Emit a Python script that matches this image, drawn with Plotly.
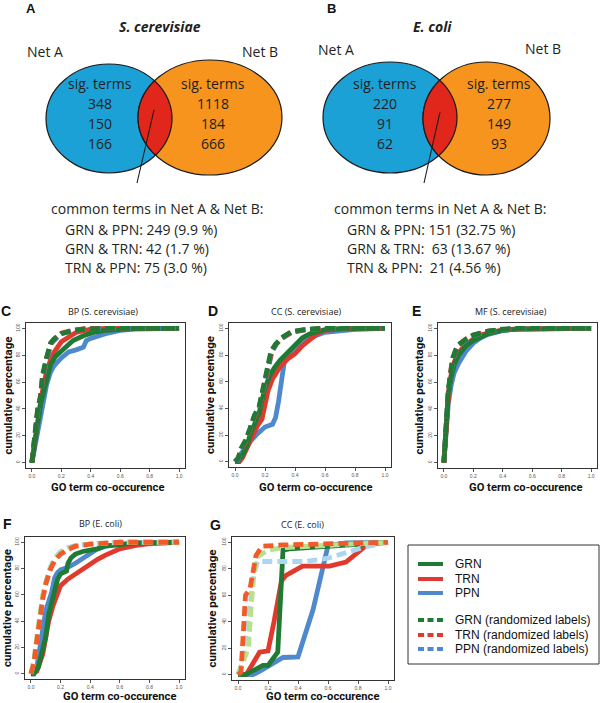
import numpy as np
import plotly.graph_objects as go

W, H = 600, 703

# ---------------- Venn data ----------------
venn_titles = ["S. cerevisiae", "E. coli"]
venn_letters = ["A", "B"]
sig_netA_sc = [348, 150, 166]
sig_netB_sc = [1118, 184, 666]
sig_netA_ec = [220, 91, 62]
sig_netB_ec = [277, 149, 93]
pair_names = ["GRN & PPN", "GRN & TRN", "TRN & PPN"]
common_sc_counts = [249, 42, 75]
common_sc_pct = ["9.9", "1.7", "3.0"]
common_ec_counts = [151, 63, 21]
common_ec_pct = ["32.75", "13.67", "4.56"]

# ---------------- CDF data: [co-occurrence, cumulative %] ----------------
bp_sc_grn = [[0,0],[0.016,12],[0.04,32],[0.06,44],[0.083,54],[0.105,65],[0.127,73],[0.16,79],[0.195,83],[0.24,87],[0.28,91],[0.35,94.5],[0.42,97],[0.5,98.5],[0.69,99.8],[1,100]]
bp_sc_trn = [[0,0],[0.016,13],[0.04,33],[0.06,46],[0.08,58],[0.1,68],[0.125,76],[0.15,82],[0.2,90],[0.25,94],[0.3,97],[0.4,99.5],[0.5,99.9],[1,100]]
bp_sc_ppn = [[0,0],[0.016,10],[0.04,24],[0.05,30],[0.075,45],[0.1,58],[0.125,67],[0.15,72],[0.2,78],[0.25,82.5],[0.3,84],[0.35,86],[0.37,91],[0.4,92.5],[0.5,96],[0.6,98.5],[0.7,99.5],[1,100]]
bp_sc_grn_r = [[0,0],[0.016,20],[0.038,39],[0.06,49],[0.07,64],[0.094,76],[0.127,89],[0.15,92],[0.2,96],[0.27,98],[0.35,99.5],[0.5,100],[1,100]]
bp_sc_trn_r = [[0,0],[0.016,19],[0.04,40],[0.06,51],[0.075,65],[0.1,78],[0.13,89.5],[0.16,93],[0.2,96.5],[0.27,98.5],[0.35,99.6],[0.5,100],[1,100]]
bp_sc_ppn_r = [[0,0],[0.016,18],[0.04,38],[0.06,50],[0.075,63],[0.1,76],[0.13,88.5],[0.16,92],[0.2,96],[0.27,98.2],[0.35,99.5],[0.5,100],[1,100]]

cc_sc_grn = [[0,0],[0.02,0],[0.05,5],[0.08,12],[0.1,20],[0.13,28],[0.16,36],[0.18,46],[0.2,55],[0.23,64],[0.26,70],[0.3,76],[0.35,82],[0.4,88],[0.45,93],[0.5,96],[0.6,99],[0.7,99.8],[1,100]]
cc_sc_trn = [[0,0],[0.03,0],[0.05,3],[0.1,15],[0.15,27],[0.18,32],[0.2,42],[0.22,53],[0.25,62],[0.3,71],[0.35,77],[0.4,81],[0.45,87],[0.5,92],[0.55,96],[0.6,98.5],[0.7,99.5],[1,100]]
cc_sc_ppn = [[0,0],[0.05,8],[0.1,15],[0.15,21],[0.2,26],[0.25,28],[0.27,33],[0.29,45],[0.31,62],[0.33,76],[0.36,81],[0.4,86],[0.45,90],[0.5,93],[0.6,97],[0.7,98.5],[0.8,99.3],[1,100]]
cc_sc_grn_r = [[0,0],[0.02,2],[0.04,10],[0.07,16],[0.1,25],[0.13,35],[0.16,41],[0.185,53],[0.21,66],[0.24,83],[0.27,88],[0.31,93],[0.375,97.5],[0.46,99],[0.58,100],[1,100]]
cc_sc_trn_r = [[0,0],[0.02,2],[0.04,9],[0.07,15],[0.1,24],[0.13,34],[0.16,40],[0.19,54],[0.215,67],[0.245,83],[0.275,88.5],[0.315,93],[0.38,97.5],[0.47,99],[0.6,100],[1,100]]
cc_sc_ppn_r = [[0,0],[0.02,1],[0.04,9],[0.07,15],[0.1,24],[0.13,34],[0.16,40],[0.19,53],[0.215,66],[0.245,82],[0.275,88],[0.315,92.5],[0.38,97],[0.47,98.8],[0.6,100],[1,100]]

mf_sc_grn = [[0,0],[0.01,18],[0.02,36],[0.03,50],[0.05,64],[0.07,73],[0.1,80],[0.15,87],[0.2,91],[0.25,94],[0.3,96],[0.4,98.5],[0.5,99.5],[1,100]]
mf_sc_trn = [[0,0],[0.01,19],[0.02,38],[0.03,52],[0.05,66],[0.07,75],[0.1,82],[0.15,88],[0.2,92],[0.25,95],[0.3,96.5],[0.4,98.8],[0.5,99.6],[1,100]]
mf_sc_ppn = [[0,0],[0.01,15],[0.02,30],[0.03,44],[0.05,58],[0.07,67],[0.1,74],[0.15,83],[0.2,89],[0.25,93],[0.3,95.5],[0.4,98.5],[0.5,99.5],[1,100]]
mf_sc_grn_r = [[0,0],[0.01,20],[0.02,40],[0.03,55],[0.04,62],[0.05,72],[0.06,78],[0.08,84],[0.1,88],[0.15,92],[0.2,95],[0.3,98],[0.4,99.5],[0.5,100],[1,100]]
mf_sc_trn_r = [[0,0],[0.01,19],[0.02,39],[0.03,54],[0.04,62],[0.05,71],[0.06,77],[0.08,83],[0.1,87.5],[0.15,92],[0.2,95],[0.3,98],[0.4,99.4],[0.5,100],[1,100]]
mf_sc_ppn_r = [[0,0],[0.01,19],[0.02,39],[0.03,53],[0.04,61],[0.05,70],[0.06,76],[0.08,83],[0.1,87],[0.15,91.5],[0.2,94.5],[0.3,97.8],[0.4,99.3],[0.5,100],[1,100]]

bp_ec_grn = [[0,0],[0.02,0],[0.05,5],[0.08,20],[0.1,28],[0.12,45],[0.14,55],[0.16,65],[0.18,72],[0.2,76],[0.24,78],[0.25,84],[0.27,88],[0.3,91],[0.35,93],[0.4,94],[0.45,95],[0.5,97],[0.6,98.5],[0.7,99.3],[1,100]]
bp_ec_trn = [[0,0],[0.04,2],[0.08,15],[0.1,28],[0.12,40],[0.15,52],[0.18,62],[0.2,67],[0.25,72],[0.3,76],[0.35,80],[0.4,84],[0.45,87],[0.5,90],[0.55,93],[0.6,95],[0.7,97.5],[0.8,99],[1,100]]
bp_ec_ppn = [[0,0],[0.02,0],[0.04,5],[0.06,20],[0.08,35],[0.1,48],[0.12,55],[0.14,62],[0.16,73],[0.18,77],[0.2,79],[0.25,81],[0.3,84],[0.35,88],[0.4,92],[0.45,95],[0.5,97],[0.6,98.5],[0.7,99.5],[1,100]]
bp_ec_grn_r = [[0,0],[0.02,10],[0.04,28],[0.06,45],[0.08,60],[0.1,70],[0.13,80],[0.16,87],[0.2,92],[0.25,95],[0.3,97],[0.4,98.5],[0.5,99.5],[0.6,100],[1,100]]
bp_ec_trn_r = [[0,0],[0.02,8],[0.04,25],[0.06,42],[0.08,57],[0.1,68],[0.13,79],[0.16,86],[0.2,91],[0.25,94.5],[0.3,97],[0.4,98.5],[0.5,99.3],[0.6,100],[1,100]]
bp_ec_ppn_r = [[0,0],[0.02,9],[0.04,27],[0.06,44],[0.08,59],[0.1,69],[0.13,81],[0.16,88],[0.2,93],[0.25,96],[0.3,97.5],[0.4,98.8],[0.5,99.5],[0.6,100],[1,100]]

cc_ec_grn = [[0,0],[0.05,0],[0.166,7],[0.2,7],[0.265,17],[0.3,94],[0.34,95],[0.61,96.8],[1,100]]
cc_ec_trn = [[0,0],[0.055,0],[0.144,17],[0.2,18],[0.24,40],[0.29,71],[0.32,75],[0.43,82],[0.61,82],[0.72,85],[0.87,99],[1,100]]
cc_ec_ppn = [[0,0],[0.1,0],[0.166,4],[0.3,13],[0.4,13.5],[0.5,49],[0.6,97.5],[0.72,99.5],[1,100]]
cc_ec_grn_r = [[0,0],[0.04,12],[0.07,20],[0.09,55],[0.11,80],[0.13,89],[0.2,94],[0.3,96],[0.6,98],[1,100]]
cc_ec_trn_r = [[0,0],[0.02,2],[0.05,60],[0.08,65],[0.12,90],[0.16,97],[0.3,98],[0.6,99],[1,100]]
cc_ec_ppn_r = [[0,0],[0.03,10],[0.06,33],[0.1,72],[0.13,85.5],[0.45,85.5],[0.6,88],[0.83,96],[1,100]]

x_ticks = [0, 0.2, 0.4, 0.6, 0.8, 1.0]
x_tick_labels = ["0.0", "0.2", "0.4", "0.6", "0.8", "1.0"]
y_ticks = [0, 20, 40, 60, 80, 100]
y_tick_labels = ["0", "20", "40", "60", "80", "100"]

legend_labels = ["GRN", "TRN", "PPN", "GRN (randomized labels)", "TRN (randomized labels)", "PPN (randomized labels)"]

# ---------------- styles ----------------
C_GRN, C_TRN, C_PPN = "#1f7a34", "#e03a2f", "#4d89cc"
C_GRN_L, C_TRN_L, C_PPN_L = "#b8e08e", "#f25a2a", "#acd6f0"
V_BLUE, V_ORANGE, V_RED = "#1ba1d6", "#f7941d", "#e1261c"
TXT = "#231f20"
VFONT = "Open Sans"


def PX(x):
    return x / W


def PY(y):
    return 1 - y / H


fig = go.Figure()
shapes = []
ann = []


def text(x, y, s, size, family=VFONT, color=TXT, xanchor="center", angle=0):
    ann.append(dict(x=PX(x), y=PY(y), xref="paper", yref="paper", text=s, showarrow=False,
                    xanchor=xanchor, yanchor="middle", textangle=angle,
                    font=dict(size=size, family=family, color=color)))


# ---------------- Venn diagrams ----------------
def lens_path(c1, r1, c2, r2, n=720):
    t = np.linspace(-np.pi, np.pi, n)
    x1 = c1[0] + r1[0] * np.cos(t)
    y1 = c1[1] + r1[1] * np.sin(t)
    in2 = ((x1 - c2[0]) / r2[0]) ** 2 + ((y1 - c2[1]) / r2[1]) ** 2 <= 1
    t2 = np.linspace(0, 2 * np.pi, n)
    x2 = c2[0] + r2[0] * np.cos(t2)
    y2 = c2[1] + r2[1] * np.sin(t2)
    in1 = ((x2 - c1[0]) / r1[0]) ** 2 + ((y2 - c1[1]) / r1[1]) ** 2 <= 1
    pts = list(zip(x1[in2], y1[in2])) + list(zip(x2[in1], y2[in1]))
    return "M " + " L ".join(f"{PX(a):.5f},{PY(b):.5f}" for a, b in pts) + " Z"


def venn(off, blue_box, orange_box, title, letter, sigA, sigB, counts, pcts,
         blue_cx, orange_cx, pointer, netA_x, netB_x, netA_y, netB_y, common_x, list_x, extra_space):
    bx0, by0, bx1, by1 = blue_box
    ox0, oy0, ox1, oy1 = orange_box
    for (x0, y0, x1, y1), col in [(blue_box, V_BLUE), (orange_box, V_ORANGE)]:
        shapes.append(dict(type="circle", xref="paper", yref="paper",
                           x0=PX(x0), x1=PX(x1), y0=PY(y1), y1=PY(y0),
                           fillcolor=col, line=dict(color="#1a1a1a", width=1.2)))
    c1 = ((bx0 + bx1) / 2, (by0 + by1) / 2); r1 = ((bx1 - bx0) / 2, (by1 - by0) / 2)
    c2 = ((ox0 + ox1) / 2, (oy0 + oy1) / 2); r2 = ((ox1 - ox0) / 2, (oy1 - oy0) / 2)
    shapes.append(dict(type="path", xref="paper", yref="paper", path=lens_path(c1, r1, c2, r2),
                       fillcolor=V_RED, line=dict(color="#1a1a1a", width=1.2)))
    (px0, py0), (px1, py1) = pointer
    shapes.append(dict(type="line", xref="paper", yref="paper", x0=PX(px0), y0=PY(py0),
                       x1=PX(px1), y1=PY(py1), line=dict(color="#1a1a1a", width=1.1)))
    text(off + 31, 9, f"<b>{letter}</b>", 13, family="Liberation Sans", color="#111")
    text((bx0 + ox1) / 2 - 4, 27, f"<b><i>{title}</i></b>", 14)
    text(netA_x, netA_y, "Net A", 14)
    text(netB_x, netB_y, "Net B", 14)
    rows_y = [83, 103, 123, 143]
    text(blue_cx, rows_y[0], "sig. terms", 14)
    text(orange_cx, rows_y[0], "sig. terms", 14)
    for i in range(3):
        text(blue_cx, rows_y[i + 1], str(sigA[i]), 14)
        text(orange_cx, rows_y[i + 1], str(sigB[i]), 14)
    text(common_x, 208, "common terms in Net A &amp; Net B:", 14, xanchor="left")
    list_y = [230, 248.5, 267]
    for i in range(3):
        sp = "\u00a0" if (extra_space and i > 0) else ""
        text(list_x, list_y[i], f"{pair_names[i].replace('&', '&amp;')}: {sp}{counts[i]} ({pcts[i]} %)", 14, xanchor="left")


venn(0, (46, 64, 172, 173), (138, 60, 282, 175), venn_titles[0], venn_letters[0],
     sig_netA_sc, sig_netB_sc, common_sc_counts, common_sc_pct,
     100, 213, ((154, 110), (137, 183)), 45, 260, 52, 52, 49, 63, False)
venn(300, (323, 62, 457, 173), (423, 62, 550, 175), venn_titles[1], venn_letters[1],
     sig_netA_ec, sig_netB_ec, common_ec_counts, common_ec_pct,
     385, 499, ((440, 112), (424, 183)), 336, 543, 50, 48, 332, 345, True)

# ---------------- CDF panels ----------------
panels = [
    dict(letter="C", title="BP (S. cerevisiae)", box=(26, 323, 185, 468), tx=103, ty=311, lx=6, ly=311,
         xt=107, xty=487, ytx=7, curves=[bp_sc_ppn, bp_sc_trn, bp_sc_grn, bp_sc_ppn_r, bp_sc_trn_r, bp_sc_grn_r], light=False),
    dict(letter="D", title="CC (S. cerevisiae)", box=(229, 323, 391, 467), tx=306, ty=311, lx=213, ly=311,
         xt=315, xty=487, ytx=210, curves=[cc_sc_ppn, cc_sc_trn, cc_sc_grn, cc_sc_ppn_r, cc_sc_trn_r, cc_sc_grn_r], light=False),
    dict(letter="E", title="MF (S. cerevisiae)", box=(438, 323, 597, 468), tx=511, ty=311, lx=416, ly=311,
         xt=525, xty=487, ytx=418, curves=[mf_sc_ppn, mf_sc_trn, mf_sc_grn, mf_sc_ppn_r, mf_sc_trn_r, mf_sc_grn_r], light=False),
    dict(letter="F", title="BP (E. coli)", box=(25, 537, 185, 679), tx=100, ty=523, lx=7, ly=524,
         xt=119, xty=696, ytx=7, curves=[bp_ec_ppn, bp_ec_trn, bp_ec_grn, bp_ec_ppn_r, bp_ec_grn_r, bp_ec_trn_r], light=True),
    dict(letter="G", title="CC (E. coli)", box=(232, 537, 394, 680), tx=302, ty=524, lx=215, ly=525,
         xt=322, xty=696, ytx=211, curves=[cc_ec_ppn, cc_ec_trn, cc_ec_grn, cc_ec_ppn_r, cc_ec_grn_r, cc_ec_trn_r], light=True),
]

layout_axes = {}
for i, p in enumerate(panels, start=1):
    x0, y0, x1, y1 = p["box"]
    xa = f"x{i}" if i > 1 else "x"
    ya = f"y{i}" if i > 1 else "y"
    if p["light"]:
        cols = [C_PPN, C_TRN, C_GRN, C_PPN_L, C_GRN_L, C_TRN_L]
    else:
        cols = [C_PPN, C_TRN, C_GRN, C_PPN, C_TRN, C_GRN]
    for j, (cv, col) in enumerate(zip(p["curves"], cols)):
        arr = np.array(cv, dtype=float)
        fig.add_trace(go.Scatter(x=arr[:, 0], y=arr[:, 1], mode="lines", xaxis=xa, yaxis=ya,
                                 line=dict(color=col, width=4.8, dash=None if j < 3 else "10px,5px"),
                                 showlegend=False, hoverinfo="skip"))
    common = dict(showgrid=False, zeroline=False, showline=True, mirror=True, linecolor="#333", linewidth=1,
                  ticks="outside", ticklen=3, tickwidth=0.8, tickcolor="#555",
                  tickfont=dict(size=5, color="#555", family="Liberation Sans"), fixedrange=True)
    layout_axes[f"xaxis{i if i > 1 else ''}"] = dict(
        domain=[PX(x0), PX(x1)], anchor=ya, range=[-0.04, 1.04],
        tickvals=x_ticks, ticktext=x_tick_labels, **common)
    layout_axes[f"yaxis{i if i > 1 else ''}"] = dict(
        domain=[PY(y1), PY(y0)], anchor=xa, range=[-4, 104],
        tickvals=y_ticks, ticktext=y_tick_labels, tickangle=-90, **common)
    text(p["lx"], p["ly"], f"<b>{p['letter']}</b>", 14, family="Liberation Sans", color="#111")
    text(p["tx"], p["ty"], p["title"], 9, color="#222")
    text(p["xt"], p["xty"], "<b>GO term co-occurence</b>", 11.2, family="Roboto", color="#111")
    text(p["ytx"], (y0 + y1) / 2, "<b>cumulative percentage</b>", 11.5, family="Roboto", color="#111", angle=-90)

# ---------------- legend ----------------
shapes.append(dict(type="rect", xref="paper", yref="paper", x0=PX(408), x1=PX(599), y0=PY(664), y1=PY(545),
                   line=dict(color="#333", width=1), fillcolor="rgba(0,0,0,0)"))
leg_y = [564, 579, 593, 620, 635, 649]
leg_cols = [C_GRN, C_TRN, C_PPN, C_GRN, C_TRN, C_PPN]
for k in range(6):
    shapes.append(dict(type="line", xref="paper", yref="paper", x0=PX(418), x1=PX(443),
                       y0=PY(leg_y[k]), y1=PY(leg_y[k]),
                       line=dict(color=leg_cols[k], width=4, dash=None if k < 3 else "6px,3.5px")))
    text(453, leg_y[k], legend_labels[k], 12, family="Liberation Sans", color="#111", xanchor="left")

fig.update_layout(width=W, height=H, margin=dict(l=0, r=0, t=0, b=0),
                  paper_bgcolor="white", plot_bgcolor="white",
                  shapes=shapes, annotations=ann, showlegend=False, **layout_axes)

fig.write_html("out.html", config={"displayModeBar": False},
               post_script="document.body.style.margin='0';document.body.style.overflow='hidden';")
